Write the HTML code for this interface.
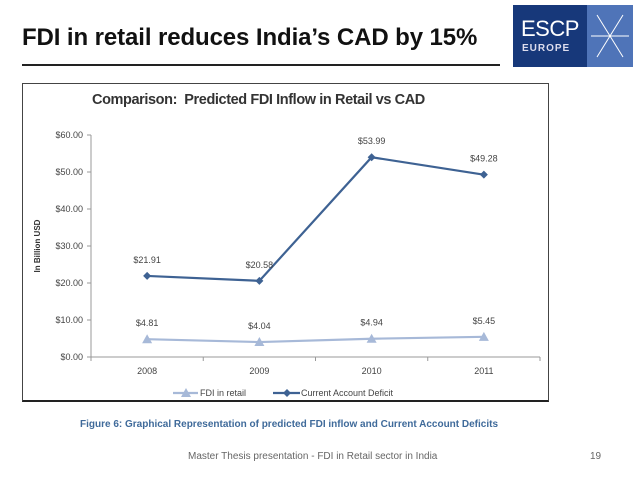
<!DOCTYPE html>
<html><head><meta charset="utf-8">
<style>
body{margin:0;width:638px;height:479px;background:#fff;overflow:hidden;font-family:"Liberation Sans",sans-serif;position:relative}
.abs{position:absolute}
</style></head><body>
<div class="abs" style="left:22px;top:24px;font-size:24px;font-weight:bold;color:#111;letter-spacing:-0.1px;white-space:nowrap">FDI in retail reduces India’s CAD by 15%</div>
<div class="abs" style="left:22px;top:64px;width:478px;height:2px;background:#222"></div>
<div class="abs" style="left:513px;top:5px;width:120px;height:62px;background:#4f74b8">
  <div style="position:absolute;left:0;top:0;width:74px;height:62px;background:#17387a"></div>
  <div style="position:absolute;left:8px;top:13px;color:#fff;font-size:22px;line-height:22px;letter-spacing:-0.5px">ESCP</div>
  <div style="position:absolute;left:9px;top:38px;color:#dde;font-size:10px;font-weight:bold;letter-spacing:1px">EUROPE</div>
  <svg style="position:absolute;left:74px;top:0" width="46" height="62"><path d="M10 10 L36 52 M36 10 L10 52 M4 31 L42 31" stroke="#fff" stroke-width="1" fill="none"/></svg>
</div>
<div class="abs" style="left:22px;top:83px;width:525px;height:316px;border:1px solid #444;border-bottom:2px solid #222"></div>
<div class="abs" style="left:92px;top:92px;font-size:14.5px;font-weight:bold;color:#333;letter-spacing:-0.4px;white-space:nowrap">Comparison:&nbsp; Predicted FDI Inflow in Retail vs CAD</div>
<svg class="abs" style="left:0;top:0" width="638" height="479" id="chart"></svg>
<div class="abs" style="left:80px;top:419px;font-size:10px;font-weight:bold;color:#3f6a9a;white-space:nowrap">Figure 6: Graphical Representation of predicted FDI inflow and Current Account Deficits</div>
<div class="abs" style="left:188px;top:451px;font-size:10px;color:#666;white-space:nowrap">Master Thesis presentation - FDI in Retail sector in India</div>
<div class="abs" style="left:590px;top:451px;font-size:10px;color:#666">19</div>
<script>
const categories=["2008","2009","2010","2011"];
const fdiValues=[4.81,4.04,4.94,5.45];
const cadValues=[21.91,20.58,53.99,49.28];
const yTicks=[0,10,20,30,40,50,60];
const NS="http://www.w3.org/2000/svg";
const svg=document.getElementById('chart');
const x0=91,x1=540,y0=357,y1=135;
function xs(i){return x0+(i+0.5)*(x1-x0)/categories.length;}
function ys(v){return y0-(v/60)*(y0-y1);}
function mk(t,a){const e=document.createElementNS(NS,t);for(const k in a)e.setAttribute(k,a[k]);svg.appendChild(e);return e;}
let e=mk('line',{x1:x0,y1:y1,x2:x0,y2:y0,stroke:'#999'});


e=mk('line',{x1:x0,y1:y0,x2:x1,y2:y0,stroke:'#999'});


yTicks.forEach(v=>{
  const t=mk('line',{x1:x0-4,y1:ys(v),x2:x0,y2:ys(v),stroke:'#999'});
  
  
  const l=mk('text',{x:x0-8,y:ys(v)+3,'text-anchor':'end','font-size':'9',fill:'#444'});
  l.textContent='$'+v.toFixed(2);
  
  
});
for(let i=0;i<=categories.length;i++){
  const xx=x0+i*(x1-x0)/categories.length;
  const t=mk('line',{x1:xx,y1:y0,x2:xx,y2:y0+4,stroke:'#999'});
  
  
}
categories.forEach((c,i)=>{
  const l=mk('text',{x:xs(i),y:y0+17,'text-anchor':'middle','font-size':'9',fill:'#444'});
  l.textContent=c;
  
  
});
const yt=mk('text',{x:0,y:0,transform:'translate(40,246) rotate(-90)','text-anchor':'middle','font-size':'8','font-weight':'bold',fill:'#333'});
yt.textContent='In Billion USD';


function series(vals,color,name,marker){
  const p=mk('polyline',{points:vals.map((v,i)=>xs(i)+','+ys(v)).join(' '),fill:'none',stroke:color,'stroke-width':'2.2'});
  
  
  vals.forEach((v,i)=>{
    const X=xs(i),Y=ys(v);
    let m;
    if(marker==='tri')m=mk('polygon',{points:`${X},${Y-5} ${X-5},${Y+4} ${X+5},${Y+4}`,fill:color});
    else m=mk('polygon',{points:`${X},${Y-4} ${X+4},${Y} ${X},${Y+4} ${X-4},${Y}`,fill:color});
    
    
    const l=mk('text',{x:X,y:Y-13,'text-anchor':'middle','font-size':'9',fill:'#444'});
    l.textContent='$'+v.toFixed(2);
    
    
  });
}
series(fdiValues,'#a7b9d8','fdi','tri');
series(cadValues,'#3e6293','cad','dia');
let lg=mk('line',{x1:173,y1:393,x2:198,y2:393,stroke:'#a7b9d8','stroke-width':'2.2'});


mk('polygon',{points:'186,388 181,397 191,397',fill:'#a7b9d8'});
let lt=mk('text',{x:200,y:396,'font-size':'9',fill:'#444'});lt.textContent='FDI in retail';


lg=mk('line',{x1:273,y1:393,x2:300,y2:393,stroke:'#3e6293','stroke-width':'2.2'});


mk('polygon',{points:'287,389 291,393 287,397 283,393',fill:'#3e6293'});
lt=mk('text',{x:301,y:396,'font-size':'9',fill:'#444'});lt.textContent='Current Account Deficit';


</script>
</body></html>
